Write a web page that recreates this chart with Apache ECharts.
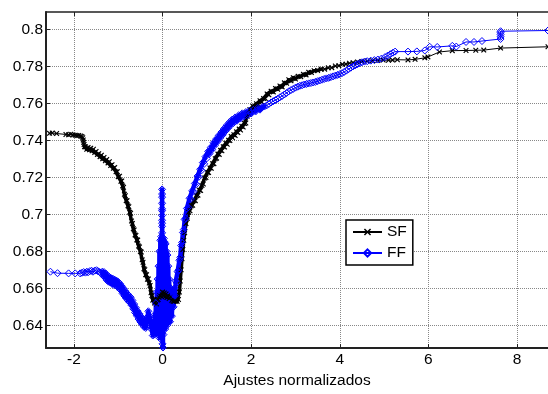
<!DOCTYPE html>
<html>
<head>
<meta charset="utf-8">
<script src="https://cdn.jsdelivr.net/npm/echarts@6/dist/echarts.min.js"></script>
<style>
  html, body { margin: 0; padding: 0; background: #fff; }
  #chart { width: 548px; height: 394px; }
</style>
</head>
<body>
<div id="chart"></div>
<script>
// tick values
const xTicks = [-2, 0, 2, 4, 6, 8]
const yTicks = [0.64, 0.66, 0.68, 0.7, 0.72, 0.74, 0.76, 0.78, 0.8]

// SF series: [ajuste normalizado, valor]
const sf = [
  [-2.55,.7438],[-2.49,.7440],[-2.39,.7437],[-2.18,.7432],[-2.12,.7430],[-2.07,.7433],[-2.02,.7429],
  [-1.97,.7428],[-1.93,.7426],[-1.89,.7427],[-1.85,.7423],[-1.82,.7421],[-1.80,.7414],[-1.79,.7402],
  [-1.78,.7390],[-1.77,.7378],[-1.76,.7366],[-1.74,.7365],[-1.71,.7352],[-1.68,.7362],[-1.65,.7349],
  [-1.62,.7358],[-1.59,.7344],[-1.56,.7352],[-1.53,.7335],[-1.50,.7340],[-1.47,.7324],[-1.44,.7328],
  [-1.41,.7312],[-1.38,.7320],[-1.35,.7300],[-1.32,.7308],[-1.29,.7290],[-1.26,.7296],[-1.23,.7278],
  [-1.20,.7285],[-1.17,.7264],[-1.14,.7268],[-1.11,.7249],[-1.08,.7253],[-1.05,.7230],[-1.02,.7231],
  [-1.00,.7204],[-0.97,.7206],[-0.94,.7179],[-0.92,.7181],[-0.90,.7154],[-0.88,.7146],[-0.86,.7109],
  [-0.84,.7101],[-0.82,.7074],[-0.80,.7074],[-0.78,.7046],[-0.76,.7041],[-0.74,.7012],[-0.72,.7006],
  [-0.70,.6964],[-0.68,.6951],[-0.66,.6922],[-0.64,.6916],[-0.62,.6889],[-0.60,.6886],[-0.58,.6862],
  [-0.56,.6861],[-0.54,.6829],[-0.52,.6824],[-0.50,.6799],[-0.48,.6796],[-0.46,.6754],[-0.44,.6741],
  [-0.42,.6706],[-0.40,.6701],[-0.38,.6674],[-0.36,.6674],[-0.34,.6649],[-0.32,.6651],[-0.30,.6629],
  [-0.28,.6616],[-0.26,.6576],[-0.24,.6561],[-0.22,.6536],[-0.20,.6541],[-0.18,.6521],[-0.16,.6526],
  [-0.14,.6516],[-0.12,.6536],[-0.10,.6540],[-0.08,.6552],[-0.06,.6560],[-0.04,.6560],[-0.02,.6570],
  [0.00,.6580],[0.02,.6560],[0.04,.6575],[0.06,.6555],[0.08,.6570],[0.10,.6550],[0.12,.6560],
  [0.15,.6545],[0.18,.6555],[0.21,.6535],[0.24,.6530],[0.27,.6530],[0.30,.6530],[0.33,.6530],
  [0.36,.6540],[0.38,.6580],[0.40,.6640],[0.42,.6700],[0.44,.6760],[0.46,.6810],[0.48,.6860],
  [0.50,.6900],[0.53,.6950],[0.56,.6979],[0.59,.7011],[0.62,.7019],[0.65,.7046],
  [0.68,.7049],[0.71,.7074],[0.74,.7074],[0.77,.7101],[0.80,.7104],[0.83,.7131],[0.86,.7129],
  [0.89,.7156],[0.92,.7164],[0.95,.7196],[0.98,.7199],[1.01,.7226],[1.04,.7226],[1.07,.7251],
  [1.10,.7249],[1.13,.7274],[1.16,.7274],[1.19,.7301],[1.22,.7304],[1.25,.7326],[1.28,.7324],
  [1.31,.7346],[1.34,.7344],[1.37,.7366],[1.40,.7364],[1.43,.7384],[1.46,.7379],[1.49,.7401],
  [1.52,.7399],[1.55,.7421],[1.58,.7414],[1.61,.7431],[1.64,.7426],[1.67,.7446],[1.70,.7442],
  [1.73,.7461],[1.76,.7456],[1.79,.7476],[1.82,.7472],[1.85,.7491],[1.88,.7494],[1.91,.7531],
  [1.94,.7542],[1.97,.7566],[2.00,.7564],[2.04,.7584],[2.08,.7579],[2.12,.7598],[2.16,.7594],
  [2.20,.7614],[2.24,.7607],[2.28,.7626],[2.32,.7626],[2.36,.7651],[2.40,.7646],[2.45,.7666],
  [2.50,.7662],[2.55,.7681],[2.60,.7676],[2.65,.7694],[2.70,.7689],[2.75,.7711],[2.80,.7709],
  [2.85,.7728],[2.90,.7722],[2.95,.7739],[3.00,.7732],[3.06,.7746],[3.12,.7744],[3.18,.7757],
  [3.24,.7754],[3.30,.7768],[3.36,.7767],[3.42,.7777],[3.50,.7778],[3.58,.7785],[3.66,.7785],
  [3.74,.7792],[3.82,.7793],[3.90,.7802],[3.98,.7804],[4.06,.7811],[4.14,.7812],[4.22,.7817],
  [4.30,.7820],[4.40,.7824],[4.50,.7827],[4.62,.7829],[4.74,.7831],[4.86,.7832],[4.98,.7834],
  [5.10,.7833],[5.19,.7834],[5.30,.7836],[5.54,.7835],[5.70,.7838],[5.92,.7846],[5.99,.7851],
  [6.25,.7878],[6.54,.7885],[6.85,.7886],[7.07,.7887],[7.25,.7888],[7.63,.7899],[8.70,.7906]
]

// FF series
const ff = [
  [-2.53,.6690],[-2.37,.6682],[-2.12,.6681],[-1.97,.6681],[-1.86,.6681],[-1.82,.6684],[-1.78,.6688],
  [-1.74,.6685],[-1.71,.6690],[-1.68,.6687],[-1.64,.6693],[-1.60,.6695],[-1.57,.6690],[-1.53,.6696],
  [-1.49,.6698],[-1.46,.6693],[-1.42,.6688],[-1.39,.6684],[-1.36,.6690],[-1.34,.6668],[-1.32,.6688],
  [-1.30,.6660],[-1.28,.6680],[-1.26,.6645],[-1.24,.6668],[-1.22,.6636],[-1.20,.6662],[-1.18,.6632],
  [-1.16,.6655],[-1.14,.6624],[-1.12,.6652],[-1.10,.6619],[-1.08,.6647],[-1.06,.6616],[-1.04,.6642],
  [-1.02,.6609],[-1.00,.6635],[-0.98,.6599],[-0.96,.6625],[-0.94,.6589],[-0.92,.6612],[-0.90,.6572],
  [-0.88,.6599],[-0.86,.6559],[-0.84,.6585],[-0.82,.6546],[-0.80,.6572],[-0.78,.6534],[-0.76,.6562],
  [-0.74,.6524],[-0.72,.6552],[-0.70,.6509],[-0.68,.6535],[-0.66,.6489],[-0.64,.6515],[-0.62,.6469],
  [-0.60,.6495],[-0.58,.6452],[-0.56,.6477],[-0.54,.6434],[-0.52,.6462],[-0.50,.6419],[-0.48,.6447],
  [-0.46,.6406],[-0.44,.6432],[-0.42,.6392],[-0.40,.6419],[-0.38,.6386],[-0.36,.6427],[-0.34,.6445],
  [-0.32,.6476],[-0.30,.6450],[-0.28,.6436],[-0.26,.6395],[-0.24,.6376],[-0.22,.6345],[-0.20,.6370],
  [-0.19,.6420],[-0.18,.6350],[-0.17,.6460],[-0.16,.6380],[-0.15,.6520],[-0.14,.6360],[-0.13,.6580],
  [-0.12,.6400],[-0.11,.6650],[-0.10,.6350],[-0.09,.6720],[-0.08,.6420],[-0.07,.6800],[-0.06,.6330],
  [-0.05,.6860],[-0.04,.6450],[-0.03,.6880],[-0.02,.6380],[-0.01,.6900],[-0.01,.6935],[-0.01,.6952],
  [-0.01,.6968],[-0.01,.6994],[-0.01,.7020],[-0.01,.7030],[-0.01,.7060],[-0.01,.7093],[-0.01,.7110],
  [-0.01,.7135],[0.00,.6300],[0.00,.6860],[0.01,.6280],[0.01,.6820],[0.02,.6350],[0.03,.6870],
  [0.04,.6420],[0.05,.6850],[0.06,.6380],[0.07,.6840],[0.08,.6460],[0.09,.6800],[0.10,.6400],
  [0.11,.6780],[0.12,.6450],[0.13,.6720],[0.14,.6420],[0.15,.6650],[0.17,.6420],[0.19,.6600],
  [0.21,.6450],[0.23,.6580],[0.25,.6500],[0.27,.6600],[0.28,.6560],[0.30,.6640],[0.32,.6630],
  [0.34,.6690],[0.36,.6698],[0.38,.6752],[0.40,.6768],[0.42,.6832],[0.44,.6848],[0.46,.6902],
  [0.48,.6918],[0.50,.6972],[0.52,.6978],[0.55,.7032],[0.58,.7038],[0.61,.7087],[0.64,.7083],
  [0.67,.7127],[0.70,.7123],[0.73,.7167],[0.76,.7163],[0.79,.7207],[0.82,.7203],[0.85,.7244],
  [0.88,.7238],[0.91,.7280],[0.94,.7273],[0.97,.7312],[1.00,.7303],[1.03,.7340],[1.06,.7328],
  [1.09,.7362],[1.12,.7350],[1.15,.7387],[1.18,.7373],[1.21,.7407],[1.24,.7393],[1.27,.7427],
  [1.30,.7413],[1.33,.7445],[1.36,.7430],[1.39,.7464],[1.42,.7450],[1.45,.7482],[1.48,.7466],
  [1.51,.7498],[1.54,.7482],[1.57,.7512],[1.60,.7494],[1.64,.7524],[1.68,.7506],[1.72,.7536],
  [1.76,.7518],[1.80,.7546],[1.84,.7530],[1.88,.7553],[1.92,.7536],[1.96,.7560],[2.00,.7545],
  [2.05,.7565],[2.10,.7556],[2.15,.7575],[2.20,.7566],[2.25,.7580],[2.30,.7583],[2.35,.7589],
  [2.40,.7597],[2.45,.7605],[2.50,.7612],[2.55,.7618],[2.60,.7625],[2.65,.7633],[2.70,.7640],
  [2.75,.7648],[2.80,.7656],[2.85,.7665],[2.90,.7672],[2.95,.7678],[3.00,.7685],[3.05,.7690],
  [3.10,.7695],[3.15,.7698],[3.20,.7702],[3.25,.7705],[3.30,.7708],[3.35,.7710],[3.40,.7713],
  [3.45,.7716],[3.50,.7720],[3.55,.7724],[3.60,.7728],[3.65,.7732],[3.70,.7735],[3.75,.7738],
  [3.80,.7742],[3.85,.7746],[3.90,.7750],[3.95,.7754],[4.00,.7758],[4.05,.7763],[4.10,.7770],
  [4.15,.7777],[4.20,.7785],[4.25,.7793],[4.30,.7800],[4.35,.7806],[4.40,.7812],[4.45,.7817],
  [4.50,.7822],[4.56,.7826],[4.62,.7828],[4.70,.7831],[4.78,.7834],[4.86,.7837],[4.94,.7842],
  [5.02,.7850],[5.08,.7858],[5.14,.7866],[5.20,.7874],[5.25,.7880],[5.54,.7880],[5.74,.7881],
  [5.92,.7886],[6.03,.7906],[6.20,.7905],[6.54,.7911],[6.63,.7907],[6.85,.7932],[7.03,.7932],
  [7.21,.7937],[7.63,.7948],[7.63,.7960],[7.63,.7972],[7.63,.7982],[7.63,.7990],[8.70,.7994]
]

// where the markers pile up into a solid band
const sfDense = [-1.76, 3.6]
const ffDense = [-1.37, 2.3]

const font = "'Liberation Sans', Arial, sans-serif"
const xMark = 'path://M0,1.5L1.5,0L5,3.5L8.5,0L10,1.5L6.5,5L10,8.5L8.5,10L5,6.5L1.5,10L0,8.5L3.5,5Z'
const grid = { color: '#888', type: [1, 1], width: 1 }

function band(points, range) {
    return points.filter(p => p[0] >= range[0] && p[0] <= range[1])
}

let myChart = echarts.init(document.getElementById('chart'), null, { renderer: 'canvas' })
let option = {
    animation: false,
    backgroundColor: '#fff',
    grid: { left: 46, right: -7, top: 12, bottom: 35 },
    legend: {
        left: 346,
        top: 220,
        orient: 'vertical',
        backgroundColor: '#fff',
        borderColor: '#000',
        borderWidth: 1.5,
        borderRadius: 0,
        padding: [4, 6, 4, 6],
        itemGap: 5,
        itemWidth: 29,
        itemHeight: 9,
        textStyle: { fontFamily: font, fontSize: 15.5, color: '#000' },
        data: ['SF', 'FF']
    },
    xAxis: [
        {
            type: 'value',
            min: -2.63,
            max: 8.7,
            name: 'Ajustes normalizados',
            nameLocation: 'middle',
            nameGap: 17,
            nameTextStyle: { fontFamily: font, fontSize: 15.5, color: '#000' },
            axisLine: { show: true, onZero: false, lineStyle: { color: '#222', width: 2 } },
            axisTick: { show: true, inside: true, length: 4, customValues: xTicks, lineStyle: { color: '#222' } },
            axisLabel: {
                customValues: xTicks, margin: 4,
                fontFamily: font, fontSize: 15.5, color: '#000'
            },
            splitLine: { show: true, lineStyle: grid }
        },
        {
            type: 'value',
            position: 'top',
            min: -2.63,
            max: 8.7,
            axisLine: { show: true, onZero: false, lineStyle: { color: '#222', width: 1.5 } },
            axisTick: { show: true, inside: true, length: 4, customValues: xTicks, lineStyle: { color: '#222' } },
            axisLabel: { show: false },
            splitLine: { show: false }
        }
    ],
    yAxis: {
        type: 'value',
        min: 0.6277,
        max: 0.8094,
        axisLine: { show: true, onZero: false, lineStyle: { color: '#222', width: 2 } },
        axisTick: { show: true, inside: true, length: 4, customValues: yTicks, lineStyle: { color: '#222' } },
        axisLabel: {
            customValues: yTicks, margin: 3,
            fontFamily: font, fontSize: 15.5, color: '#000',
            formatter: v => String(+v.toFixed(2))
        },
        splitLine: { show: true, lineStyle: grid }
    },
    series: [
        {
            name: 'SF',
            type: 'line',
            data: sf,
            symbol: xMark,
            symbolSize: 5.5,
            showSymbol: true,
            color: '#000',
            itemStyle: { color: '#000' },
            lineStyle: { color: '#000', width: 1 }
        },
        {
            name: 'SF band',
            type: 'line',
            data: band(sf, sfDense),
            showSymbol: false,
            color: '#000',
            lineStyle: { color: '#000', width: 3.5, join: 'round', cap: 'round' }
        },
        {
            name: 'FF band',
            type: 'line',
            data: band(ff, ffDense),
            showSymbol: false,
            color: '#0000ff',
            lineStyle: { color: '#0000ff', width: 4.5, join: 'round', cap: 'round' }
        },
        {
            name: 'FF',
            type: 'line',
            data: ff,
            symbol: 'diamond',
            symbolSize: 7,
            showSymbol: true,
            color: '#0000ff',
            itemStyle: { color: 'rgba(0,0,0,0)', borderColor: '#0000ff', borderWidth: 1 },
            lineStyle: { color: '#0000ff', width: 1 }
        }
    ]
}
myChart.setOption(option)
</script>
</body>
</html>
